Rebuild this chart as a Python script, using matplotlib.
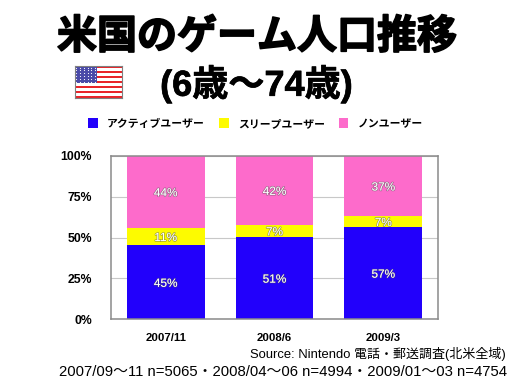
import numpy as np
import matplotlib
matplotlib.use('Agg')
import matplotlib.pyplot as plt
import matplotlib.patheffects as pe
from matplotlib.patches import Rectangle

plt.rcParams['font.family'] = ['Noto Sans CJK JP', 'DejaVu Sans']
LATIN = ['Liberation Sans', 'Noto Sans CJK JP']

W, H = 512, 384

periods = ['2007/11', '2008/6', '2009/3']
active = [45.4, 50.5, 56.6]
sleep = [10.6, 7.3, 6.5]
non = [44.0, 42.2, 36.9]
active_labels = ['45%', '51%', '57%']
sleep_labels = ['11%', '7%', '7%']
non_labels = ['44%', '42%', '37%']
yticks = [0, 25, 50, 75, 100]
series_names = ['アクティブユーザー', 'スリープユーザー', 'ノンユーザー']

BLUE = '#2200fb'
YELLOW = '#fdfb00'
PINK = '#fd6bcb'


def fx(px):
    return px / W


def fy(py):
    return 1 - py / H


fig = plt.figure(figsize=(W / 100, H / 100), dpi=100, facecolor='white')

# main chart
ax = fig.add_axes([fx(111.3), fy(319.3), (437.7 - 111.3) / W, (319.3 - 155.7) / H])
x = np.arange(len(periods))
active_a = np.array(active)
sleep_a = np.array(sleep)
non_a = np.array(non)
bw = 0.714
ax.bar(x, active_a, bw, color=BLUE, zorder=2)
ax.bar(x, sleep_a, bw, bottom=active_a, color=YELLOW, zorder=2)
ax.bar(x, non_a, bw, bottom=active_a + sleep_a, color=PINK, zorder=2)
ax.set_xlim(-0.5, 2.5)
ax.set_ylim(0, 100)
ax.set_yticks(yticks)
ax.set_yticklabels([f'{t}%' for t in yticks], fontsize=8.8, fontweight='bold', family=LATIN)
ax.set_xticks(x)
ax.set_xticklabels(periods, fontsize=8.2, fontweight='bold', family=LATIN)
ax.tick_params(length=0)
ax.tick_params(axis='y', pad=14)
ax.tick_params(axis='x', pad=10)
ax.grid(axis='y', color='#c8c8c8', lw=0.8, zorder=1)
ax.set_axisbelow(True)
for s in ax.spines.values():
    s.set_color('#8a8a8a')
    s.set_linewidth(1.1)

for i in x:
    a, s, n = active_a[i], sleep_a[i], non_a[i]
    for y, lab in [(a / 2, active_labels[i]), (a + s / 2, sleep_labels[i]), (a + s + n / 2, non_labels[i])]:
        ax.text(i, y - 1.0, lab, ha='center', va='center', color='white', fontsize=8.5, family=LATIN,
                path_effects=[pe.Stroke(linewidth=1.0, foreground='#55555588'), pe.Normal()], zorder=3)

# titles
fig.text(fx(257), fy(37), '米国のゲーム人口推移', ha='center', va='center', fontsize=28.8,
         fontweight='bold', color='black',
         path_effects=[pe.withStroke(linewidth=1.2, foreground='black')])
fig.text(fx(256.5), fy(84.5), '(6歳〜74歳)', ha='center', va='center', fontsize=26,
         fontweight='bold', color='black', family=LATIN,
         path_effects=[pe.withStroke(linewidth=0.5, foreground='black')])

# flag
fa = fig.add_axes([fx(74.5), fy(98), 47.5 / W, 32 / H])
fa.set_xlim(0, 1)
fa.set_ylim(0, 13)
for k in range(13):
    fa.add_patch(Rectangle((0, k), 1, 1, color='#e8252a' if k % 2 == 0 else 'white', lw=0))
fa.add_patch(Rectangle((0, 6), 0.47, 7, color='#4a4aa8', lw=0))
sx = [0.04 + 0.078 * c for c in range(6)]
sy = [6.6 + 1.15 * r for r in range(6)]
fa.scatter(np.repeat(sx, 6), np.tile(sy, 6), s=0.7, color='white', lw=0)
fa.set_xticks([])
fa.set_yticks([])
for s in fa.spines.values():
    s.set_color('#808080')
    s.set_linewidth(0.8)

# legend
leg_x = [88, 219, 338.5]
txt_x = [107, 238, 358]
for lx, tx, c, name in zip(leg_x, txt_x, [BLUE, YELLOW, PINK], series_names):
    fig.patches.append(Rectangle((fx(lx), fy(128)), 9.5 / W, 9.5 / H, transform=fig.transFigure,
                                 color=c, lw=0))
    fig.text(fx(tx), fy(124), name, ha='left', va='center', fontsize=7.8, fontweight='bold')

# source lines
fig.text(fx(506), fy(354), 'Source: Nintendo 電話・郵送調査(北米全域)', ha='right', va='center',
         fontsize=9.35, family=LATIN)
fig.text(fx(507), fy(372.5), '2007/09〜11 n=5065・2008/04〜06 n=4994・2009/01〜03 n=4754',
         ha='right', va='center', fontsize=10.7, family=LATIN)

fig.savefig('out.png', dpi=100)
